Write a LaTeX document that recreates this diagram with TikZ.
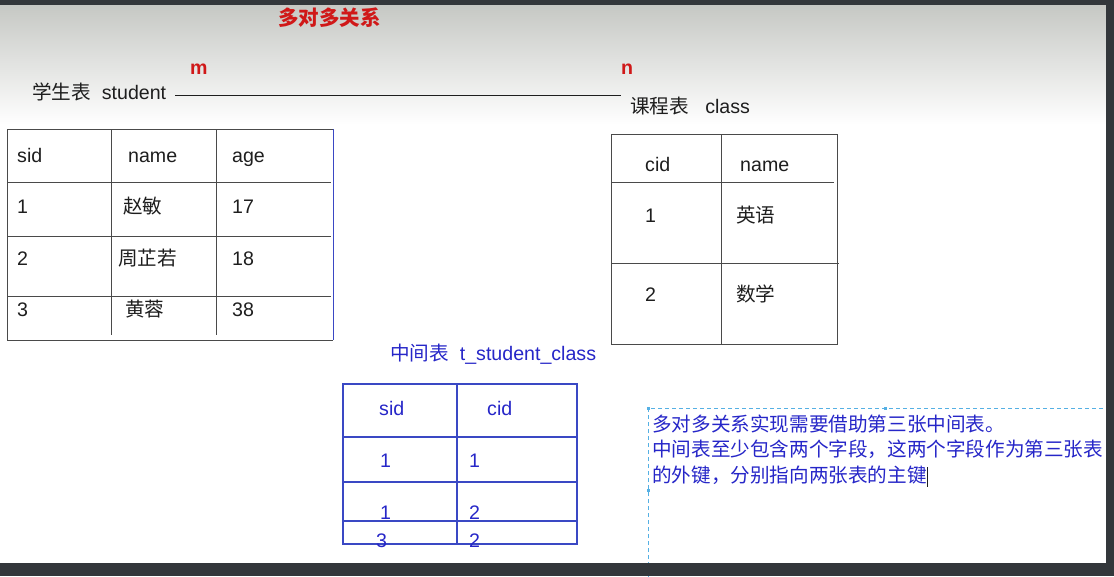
\documentclass[tikz,border=0pt]{standalone}
\usepackage{fontspec}
\setmainfont{Liberation Sans}
\newfontfamily\cjk{Noto Sans CJK SC}
\newcommand\myfs{\fontsize{19.6}{23}\selectfont}
\definecolor{frame}{HTML}{33373B}
\definecolor{topgray}{HTML}{C6C8C4}
\definecolor{ink}{HTML}{1E1E1E}
\definecolor{redt}{HTML}{D01818}
\definecolor{bluet}{HTML}{2626C8}
\definecolor{blueline}{HTML}{3A48C4}
\definecolor{dashblue}{HTML}{55B0E4}
\definecolor{gridline}{HTML}{4A4A4A}
\tikzset{
  txt/.style={anchor=base west, inner sep=0pt, font=\myfs, text=ink},
  rtxt/.style={txt, text=redt},
  btxt/.style={txt, text=bluet},
  grid/.style={draw=gridline, line width=1pt},
  bgrid/.style={draw=blueline, line width=1.1pt},
}
\begin{document}
\begin{tikzpicture}[x=1pt,y=-1pt]
\useasboundingbox (0,0) rectangle (1114,576);
% background
\fill[white] (0,0) rectangle (1114,576);
\shade[top color=topgray, bottom color=white] (0,5) rectangle (1106,125);

% title and relation
\node[rtxt, font=\fontsize{20.5}{24}\selectfont\bfseries] (title) at (278,25) {\cjk 多对多关系};
\node[txt] (stu) at (32,99) {{\cjk 学生表}\ \ student};
\node[txt] (cls) at (630,113) {{\cjk 课程表}\ \ \ class};
\coordinate (relend) at (621,95);
\path ([xshift=9pt]stu.east) coordinate (relstart);
\draw[ink, line width=0.9pt] (relstart |- relend) -- (relend);
\node[rtxt, font=\myfs\bfseries] (m) at (190,74) {m};
\node[rtxt, font=\myfs\bfseries] (n) at (621,74) {n};

% student table
\draw[grid] (7,340) -- (7,129) -- (333,129);
\draw[grid] (7,340) -- (333,340);
\draw[draw=blueline, line width=1pt] (333,129) -- (333,340);
\draw[grid] (111,129) -- (111,335);
\draw[grid] (216,129) -- (216,335);
\draw[grid] (7,182) -- (331,182);
\draw[grid] (7,236) -- (331,236);
\draw[grid] (7,296) -- (331,296);
\node[txt] (s11) at (17,162) {sid};
\node[txt] (s12) at (128,162) {name};
\node[txt] (s13) at (232,162) {age};
\node[txt] (s21) at (17,213) {1};
\node[txt] (s22) at (123,213) {\cjk 赵敏};
\node[txt] (s23) at (232,213) {17};
\node[txt] (s31) at (17,265) {2};
\node[txt] (s32) at (118,265) {\cjk 周芷若};
\node[txt] (s33) at (232,265) {18};
\node[txt] (s41) at (17,316) {3};
\node[txt] (s42) at (125,316) {\cjk 黄蓉};
\node[txt] (s43) at (232,316) {38};

% class table
\draw[grid] (611,134) rectangle (837,344);
\draw[grid] (721,134) -- (721,344);
\draw[grid] (611,182) -- (834,182);
\draw[grid] (611,263) -- (839,263);
\node[txt] (c11) at (645,171) {cid};
\node[txt] (c12) at (740,171) {name};
\node[txt] (c21) at (645,222) {1};
\node[txt] (c22) at (736,222) {\cjk 英语};
\node[txt] (c31) at (645,301) {2};
\node[txt] (c32) at (736,301) {\cjk 数学};

% middle table
\node[btxt] (mid) at (390,360) {{\cjk 中间表}\ \ t\_student\_class};
\draw[bgrid] (343,384) rectangle (577,544);
\draw[bgrid] (457,384) -- (457,544);
\draw[bgrid] (343,437) -- (577,437);
\draw[bgrid] (343,482) -- (577,482);
\draw[bgrid] (343,521) -- (577,521);
\node[btxt] (m11) at (379,415) {sid};
\node[btxt] (m12) at (487,415) {cid};
\node[btxt] (m21) at (380,467) {1};
\node[btxt] (m22) at (469,467) {1};
\node[btxt] (m31) at (380,519) {1};
\node[btxt] (m32) at (469,519) {2};
\node[btxt] (m41) at (376,547) {3};
\node[btxt] (m42) at (469,547) {2};

% note box
\draw[dashblue, line width=1pt, dash pattern=on 4pt off 3pt] (648,580) -- (648,408) -- (1120,408);
\fill[dashblue] (646.5,406.5) rectangle (649.5,409.5);
\fill[dashblue] (883.5,406.5) rectangle (886.5,409.5);
\fill[dashblue] (646.5,488.5) rectangle (649.5,491.5);
\node[btxt, font=\fontsize{19.6}{23}\selectfont\cjk] (l1) at (652,431) {多对多关系实现需要借助第三张中间表。};
\node[btxt, font=\fontsize{19.6}{23}\selectfont\cjk] (l2) at (652,456) {中间表至少包含两个字段，这两个字段作为第三张表};
\node[btxt, font=\fontsize{19.6}{23}\selectfont\cjk] (l3) at (652,482) {的外键，分别指向两张表的主键};
\coordinate (cur) at (927,467);
\draw[ink, line width=1pt] (cur) -- ++(0,20);

% window frame
\fill[frame] (0,0) rectangle (1114,5);
\fill[frame] (1106,0) rectangle (1114,576);
\fill[frame] (0,563) rectangle (1114,576);
\end{tikzpicture}
\end{document}
